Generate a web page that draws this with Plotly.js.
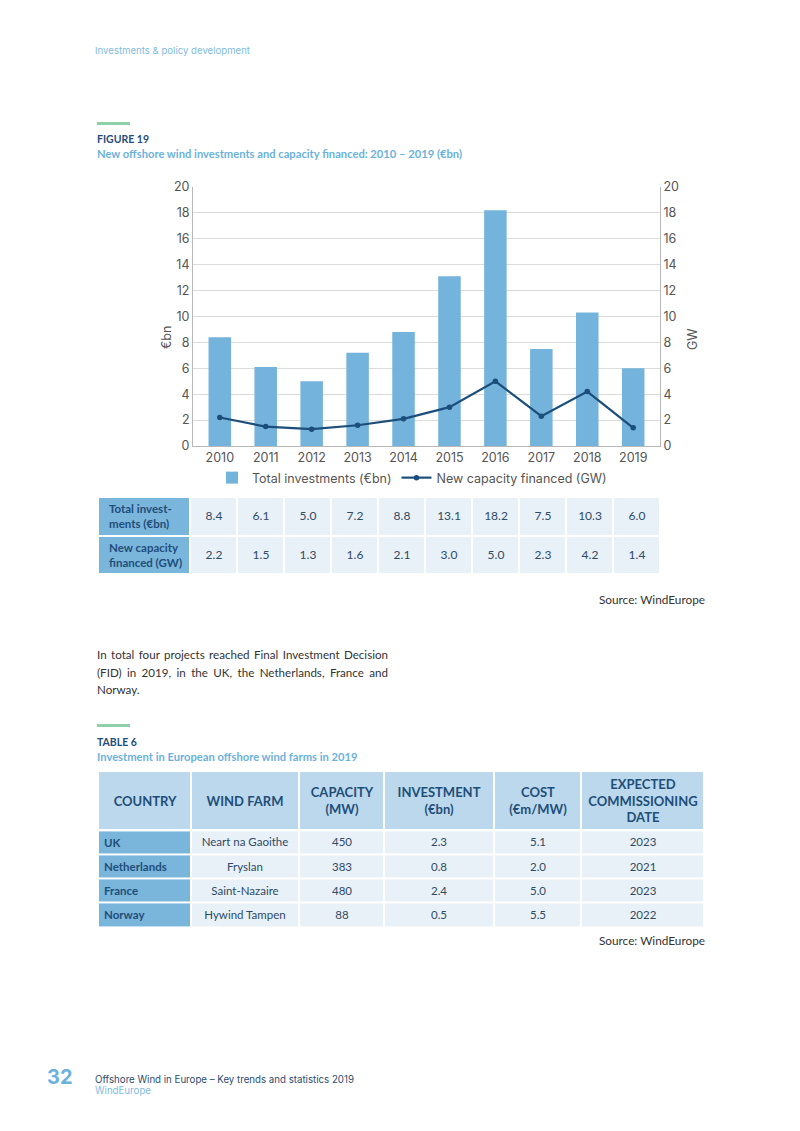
<!DOCTYPE html>
<html><head><meta charset="utf-8">
<script src="https://cdn.plot.ly/plotly-3.0.1.min.js"></script>
<style>
html,body{margin:0;padding:0;background:#fff;}
#page{position:relative;width:800px;height:1131px;overflow:hidden;background:#fff;}
#chart{position:absolute;left:0;top:0;width:800px;height:1131px;}
.t{position:absolute;white-space:nowrap;}
.rule{position:absolute;height:3px;width:33px;background:#8fd0ab;}
.pl{position:absolute;left:97px;width:291px;font-family:Lato;font-size:11.6px;line-height:17.5px;color:#333;white-space:nowrap;}
.j{text-align:justify;text-align-last:justify;}
</style></head><body>
<div id="page">
<div id="chart"></div>

<div class="t" style="left:95px;top:44px;font-family:Inter;font-size:9.6px;line-height:14px;color:#7fbbe0">Investments &amp; policy development</div>

<div class="rule" style="left:97px;top:122px"></div>
<div class="t" style="left:97px;top:132px;font-family:Lato;font-weight:bold;font-size:10.5px;line-height:14px;color:#1f4e79">FIGURE 19</div>
<div class="t" style="left:97px;top:146px;font-family:Lato;font-weight:bold;font-size:11.2px;line-height:16px;color:#6cb1dd">New offshore wind investments and capacity financed: 2010 – 2019 (€bn)</div>

<div class="t" style="right:95px;top:592px;font-family:Lato;font-size:11.8px;line-height:16px;color:#333">Source: WindEurope</div>

<div class="pl j" style="top:646px">In total four projects reached Final Investment Decision</div>
<div class="pl j" style="top:664px">(FID) in 2019, in the UK, the Netherlands, France and</div>
<div class="pl" style="top:681px">Norway.</div>

<div class="rule" style="left:97px;top:724px"></div>
<div class="t" style="left:97px;top:735px;font-family:Lato;font-weight:bold;font-size:10.5px;line-height:14px;color:#1f4e79">TABLE 6</div>
<div class="t" style="left:97px;top:749px;font-family:Lato;font-weight:bold;font-size:11.2px;line-height:16px;color:#6cb1dd">Investment in European offshore wind farms in 2019</div>

<div class="t" style="right:95px;top:933px;font-family:Lato;font-size:11.8px;line-height:16px;color:#333">Source: WindEurope</div>

<div class="t" style="left:47px;top:1065px;font-family:Inter;font-weight:bold;font-size:20px;line-height:24px;color:#6cb1dd">32</div>
<div class="t" style="left:95px;top:1073px;font-family:Inter;font-size:9.7px;line-height:13px;color:#2a4d70">Offshore Wind in Europe – Key trends and statistics 2019</div>
<div class="t" style="left:95px;top:1084px;font-family:Inter;font-size:9.7px;line-height:13px;color:#7fbbe0">WindEurope</div>
</div>

<script>
// ---------- data ----------
const years = ['2010','2011','2012','2013','2014','2015','2016','2017','2018','2019'];
const investments = [8.4, 6.1, 5.0, 7.2, 8.8, 13.1, 18.2, 7.5, 10.3, 6.0];
const capacity = [2.2, 1.5, 1.3, 1.6, 2.1, 3.0, 5.0, 2.3, 4.2, 1.4];
const seriesNames = ['Total investments (€bn)', 'New capacity financed (GW)'];
const axisTitles = ['€bn', 'GW'];
const summaryRowLabels = ['Total invest-<br>ments (€bn)', 'New capacity<br>financed (GW)'];

const t6Headers = ['COUNTRY', 'WIND FARM', 'CAPACITY<br>(MW)', 'INVESTMENT<br>(€bn)', 'COST<br>(€m/MW)', 'EXPECTED<br>COMMISSIONING<br>DATE'];
const t6Country = ['UK', 'Netherlands', 'France', 'Norway'];
const t6WindFarm = ['Neart na Gaoithe', 'Fryslan', 'Saint-Nazaire', 'Hywind Tampen'];
const t6Capacity = [450, 383, 480, 88];
const t6Investment = [2.3, 0.8, 2.4, 0.5];
const t6Cost = [5.1, 2.0, 5.0, 5.5];
const t6Commissioning = [2023, 2021, 2023, 2022];

// ---------- layout helpers (pixel -> paper) ----------
const W = 800, H = 1131;
const px = x => x / W;
const py = y => 1 - y / H;
const cum = arr => arr.reduce((a, w) => { a.push(a[a.length - 1] + w); return a; }, [0]);

const C = {
  bar: '#74b3db', line: '#1c4e7b', grid: '#dcdcdc', axis: '#b8b8b8', tick: '#555',
  hdrDark: '#7ab5dc', cell: '#e9f1f8', hdrLight: '#bbd8ec', navy: '#1f4e79', txt: '#2e4a66'
};
const TICKFONT = {family: 'Inter', size: 12.5, color: C.tick};

// ---------- figure 19 chart ----------
const traces = [
  {type: 'bar', x: years, y: investments, name: seriesNames[0], marker: {color: C.bar},
   xaxis: 'x', yaxis: 'y', hoverinfo: 'skip'},
  {type: 'scatter', mode: 'lines+markers', x: years, y: capacity, name: seriesNames[1],
   line: {color: C.line, width: 2.2}, marker: {color: C.line, size: 5.5},
   xaxis: 'x', yaxis: 'y2', hoverinfo: 'skip'}
];

// ---------- figure 19 summary table (heatmap cells) ----------
const t1ColW = [92].concat(years.map(() => 47));
const t1X = cum(t1ColW);
const t1Y = [0, 1, 2];
const t1Rows = [investments, capacity];
traces.push({
  type: 'heatmap', xaxis: 'x3', yaxis: 'y3', x: t1X, y: t1Y,
  z: t1Rows.map(r => [0].concat(r.map(() => 1))),
  text: t1Rows.map(r => [''].concat(r.map(v => v.toFixed(1)))),
  texttemplate: '%{text}', textfont: {family: 'Lato', size: 12, color: C.txt},
  colorscale: [[0, C.hdrDark], [0.5, C.cell], [1, C.hdrLight]], zmin: 0, zmax: 2,
  showscale: false, xgap: 2, ygap: 2, hoverinfo: 'skip', showlegend: false
});

// ---------- table 6 ----------
const t6ColW = [93, 108, 85, 110, 87, 123];
const t6X = cum(t6ColW);
const t6HdrY = [0, 59];
const t6RowY = [59, 83, 107, 131, 155];
traces.push({
  type: 'heatmap', xaxis: 'x4', yaxis: 'y4', x: t6X, y: t6HdrY,
  z: [t6Headers.map(() => 2)], text: [t6Headers],
  texttemplate: '%{text}', textfont: {family: 'Lato', size: 13, color: C.navy, weight: 'bold'},
  colorscale: [[0, C.hdrDark], [0.5, C.cell], [1, C.hdrLight]], zmin: 0, zmax: 2,
  showscale: false, xgap: 2, ygap: 2, hoverinfo: 'skip', showlegend: false
});
const t6Body = t6Country.map((c, i) => ['', t6WindFarm[i], String(t6Capacity[i]),
  t6Investment[i].toFixed(1), t6Cost[i].toFixed(1), String(t6Commissioning[i])]);
traces.push({
  type: 'heatmap', xaxis: 'x4', yaxis: 'y4', x: t6X, y: t6RowY,
  z: t6Body.map(r => r.map((v, j) => j === 0 ? 0 : 1)), text: t6Body,
  texttemplate: '%{text}', textfont: {family: 'Lato', size: 11.5, color: C.txt},
  colorscale: [[0, C.hdrDark], [0.5, C.cell], [1, C.hdrLight]], zmin: 0, zmax: 2,
  showscale: false, xgap: 2, ygap: 2, hoverinfo: 'skip', showlegend: false
});

// first-column labels (left aligned) and axis titles
const annotations = [];
summaryRowLabels.forEach((lab, i) => annotations.push({
  xref: 'x3', yref: 'y3', x: 9, y: (t1Y[i] + t1Y[i + 1]) / 2, text: '<b>' + lab + '</b>',
  showarrow: false, xanchor: 'left', yanchor: 'middle', align: 'left',
  font: {family: 'Lato', size: 11.5, color: C.navy}
}));
t6Country.forEach((lab, i) => annotations.push({
  xref: 'x4', yref: 'y4', x: 4, y: (t6RowY[i] + t6RowY[i + 1]) / 2, text: '<b>' + lab + '</b>',
  showarrow: false, xanchor: 'left', yanchor: 'middle', align: 'left',
  font: {family: 'Lato', size: 11.5, color: C.navy}
}));
annotations.push({xref: 'paper', yref: 'paper', x: px(166), y: py(338), text: axisTitles[0],
  textangle: -90, showarrow: false, xanchor: 'center', yanchor: 'middle', font: TICKFONT});
annotations.push({xref: 'paper', yref: 'paper', x: px(692.5), y: py(339.5), text: axisTitles[1],
  textangle: -90, showarrow: false, xanchor: 'center', yanchor: 'middle', font: TICKFONT});

const hidden = {visible: false, fixedrange: true};
const layout = {
  width: W, height: H, margin: {l: 0, r: 0, t: 0, b: 0, pad: 0},
  paper_bgcolor: '#fff', plot_bgcolor: 'rgba(0,0,0,0)',
  bargap: 0.51, showlegend: true,
  legend: {orientation: 'h', x: px(412), xanchor: 'center', y: py(478), yanchor: 'middle',
    font: {family: 'Inter', size: 12.5, color: C.tick}, bgcolor: 'rgba(0,0,0,0)'},
  xaxis: {domain: [px(193), px(660)], anchor: 'y', type: 'category', showline: true,
    linecolor: C.axis, linewidth: 1, ticks: '', tickfont: TICKFONT, fixedrange: true},
  yaxis: {domain: [py(446), py(187)], anchor: 'x', range: [0, 20], dtick: 2, showgrid: true,
    gridcolor: C.grid, gridwidth: 1, zeroline: false, showline: true, linecolor: C.axis,
    ticks: '', tickfont: TICKFONT, fixedrange: true},
  yaxis2: {overlaying: 'y', side: 'right', anchor: 'x', range: [0, 20], dtick: 2, showgrid: false,
    zeroline: false, showline: true, linecolor: C.axis, ticks: '', tickfont: TICKFONT, fixedrange: true},
  xaxis3: Object.assign({domain: [px(98), px(660)], anchor: 'y3', range: [0, t1X[t1X.length - 1]]}, hidden),
  yaxis3: Object.assign({domain: [py(574), py(497)], anchor: 'x3', range: [2, 0]}, hidden),
  xaxis4: Object.assign({domain: [px(98), px(704)], anchor: 'y4', range: [0, t6X[t6X.length - 1]]}, hidden),
  yaxis4: Object.assign({domain: [py(927), py(771)], anchor: 'x4', range: [155, 0]}, hidden),
  annotations: annotations
};

Plotly.newPlot('chart', traces, layout, {staticPlot: true, displayModeBar: false});
</script>
</body></html>
